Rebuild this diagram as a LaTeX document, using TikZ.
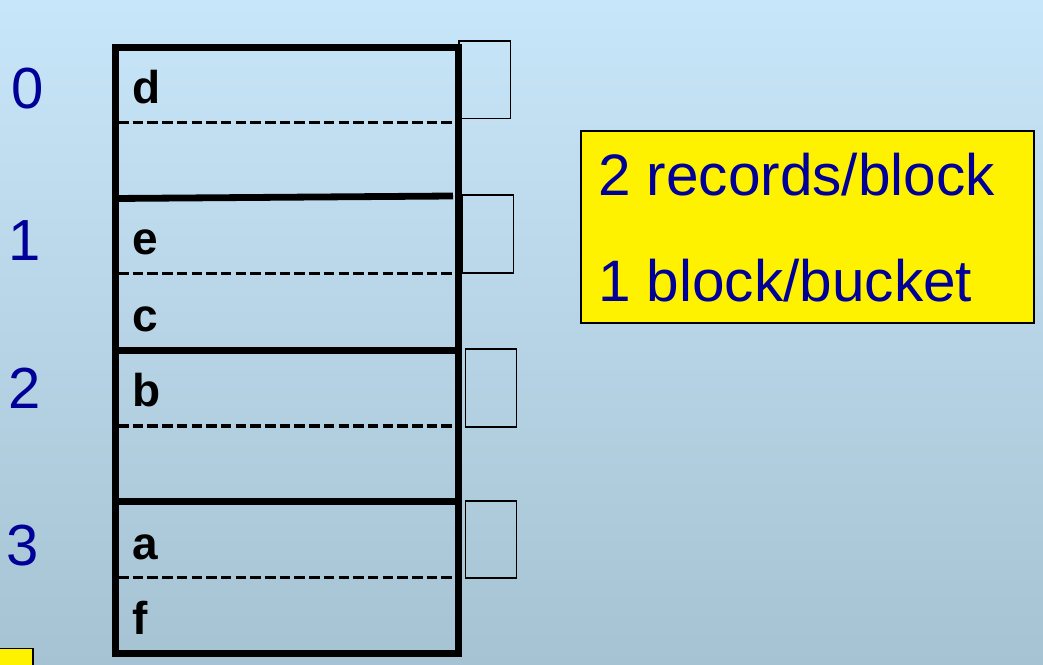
\documentclass[tikz,border=0pt]{standalone}
\usepackage{fontspec}
\setmainfont{Liberation Sans}
\usetikzlibrary{positioning}
\definecolor{skytop}{RGB}{200,230,249}
\definecolor{skybottom}{RGB}{166,195,211}
\definecolor{idxblue}{RGB}{0,0,153}

\begin{document}
\begin{tikzpicture}[x=1pt,y=1pt]
  \tikzset{
    frameline/.style={line width=7pt},
    bucketline/.style={line width=6.8pt},
    recline/.style={line width=3.4pt, dash pattern=on 10.5pt off 4.2pt},
    ovfbox/.style={draw, line width=1.6pt},
    idx/.style={text=idxblue, font=\fontsize{58}{60}\selectfont, inner sep=0pt},
    rec/.style={font=\fontsize{46}{48}\selectfont\bfseries, inner sep=0pt, anchor=base west},
    note/.style={text=idxblue, font=\fontsize{58.5}{60}\selectfont, inner sep=0pt, anchor=base west},
  }

  \shade[top color=skytop, bottom color=skybottom] (0,0) rectangle (1043,664);
  \useasboundingbox (0,0) rectangle (1043,664);

  % bucket numbers
  \node[idx] (n0) at (28,575) {0};
  \node[idx] (n1) at (25,423) {1};
  \node[idx] (n2) at (25,276) {2};
  \node[idx] (n3) at (23,118) {3};

  % the file of buckets
  \coordinate (tl) at (115.5,616.7);
  \coordinate (br) at (458,10.7);
  \draw[frameline] (tl) rectangle (br);

  \draw[bucketline] (115.5,465.5) -- (453,468);
  \draw[bucketline] (115.5,313.7) -- (455,313.7);
  \draw[bucketline] (115.5,162.5) -- (455,162.5);

  \draw[recline] (118,541.5) -- (455,541.5);
  \draw[recline] (118,390.5) -- (455,390.5);
  \draw[recline] (118,238) -- (455,238);
  \draw[recline] (118,86.5) -- (455,86.5);

  % records
  \node[rec] (rd) at (132.5,560) {d};
  \node[rec] (re) at (132.5,409) {e};
  \node[rec] (rc) at (132.5,332) {c};
  \node[rec] (rb) at (132.5,257) {b};
  \node[rec] (ra) at (132.5,105) {a};
  \node[rec] (rf) at (132.5,30) {f};

  % overflow pointers
  \draw[ovfbox] (459,623) rectangle (510.3,545.5);
  \draw[ovfbox] (462.3,468.7) rectangle (513.3,391);
  \draw[ovfbox] (465.3,314.7) rectangle (516.3,237);
  \draw[ovfbox] (465.3,163.3) rectangle (516.3,86.3);

  % parameters
  \draw[fill=yellow, line width=2pt] (581,533.3) rectangle (1034,340.7);
  \node[note] (p1) at (598,468) {2 records/block};
  \node[note] (p2) at (598,362.3) {1 block/bucket};

  \draw[fill=yellow, line width=1.5pt] (-2,-2) rectangle (33,15.7);
\end{tikzpicture}
\end{document}
